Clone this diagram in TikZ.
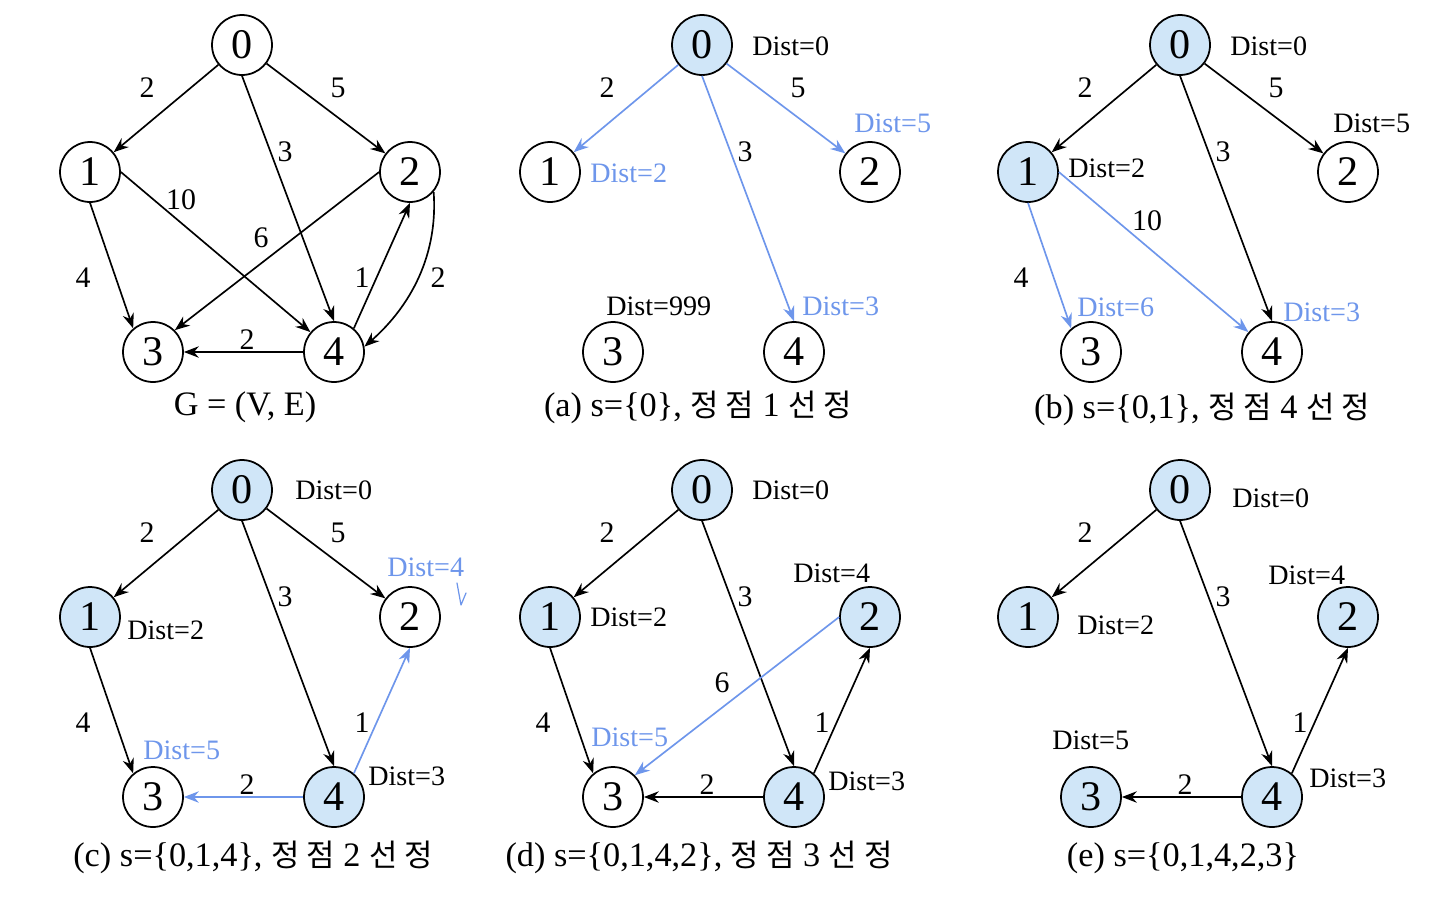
\documentclass[tikz,border=0pt]{standalone}
\usepackage{fontspec}
\setmainfont{Liberation Serif}
\newfontfamily\kor[Scale=0.9]{Noto Sans CJK KR}
\usetikzlibrary{arrows.meta}
\definecolor{hlblue}{RGB}{110,150,235}
\definecolor{donefill}{RGB}{208,230,248}

\begin{document}
\begin{tikzpicture}[x=0.02cm, y=-0.02cm, >={Stealth[length=8.5pt, width=6.5pt]},
    vertex/.style={circle, draw, line width=1pt, minimum size=1.2cm, inner sep=0pt,
      font=\fontsize{24}{24}\selectfont},
    visited/.style={vertex, fill=donefill},
    link/.style={->, line width=0.95pt},
    hl/.style={link, draw=hlblue},
    wt/.style={inner sep=0pt, font=\fontsize{17}{17}\selectfont},
    dist/.style={anchor=west, inner sep=0pt, font=\fontsize{16}{16}\selectfont},
    newdist/.style={dist, text=hlblue},
    subcap/.style={inner sep=0pt, font=\fontsize{19.5}{19.5}\selectfont}]
  \useasboundingbox (0,0) rectangle (1440,910);

  % G = (V, E)
  \begin{scope}
    \node[vertex] (g0) at (242,45) {0};
    \node[vertex] (g1) at (90,172) {1};
    \node[vertex] (g2) at (410,172) {2};
    \node[vertex] (g3) at (153,352) {3};
    \node[vertex] (g4) at (334,352) {4};
    \draw[link] (g0) -- (g1);
    \draw[link] (g0) -- (g2);
    \draw[link] (g0.south) -- (g4.north);
    \draw[link] (g1.south) -- (g3.130);
    \draw[link] (g1.east) -- (g4);
    \draw[link] (g2.west) -- (g3.45);
    \draw[link] (g4.50) -- (g2.south);
    \draw[link] (g2.-40) .. controls +(5,70) and +(40,-35) .. (g4.10);
    \draw[link] (g4) -- (g3);
    \node[wt] (gw01) at (147,88) {2};
    \node[wt] (gw02) at (338,88) {5};
    \node[wt] (gw04) at (285,152) {3};
    \node[wt] (gw14) at (181,200) {10};
    \node[wt] (gw23) at (261,238) {6};
    \node[wt] (gw13) at (83,278) {4};
    \node[wt] (gw42) at (362,278) {1};
    \node[wt] (gw24) at (438,278) {2};
    \node[wt] (gw43) at (247,340) {2};
    \node[subcap] (gcap) at (245,407) {G = (V, E)};
  \end{scope}

  % (a)
  \begin{scope}[shift={(460,0)}]
    \node[visited] (a0) at (242,45) {0};
    \node[vertex] (a1) at (90,172) {1};
    \node[vertex] (a2) at (410,172) {2};
    \node[vertex] (a3) at (153,352) {3};
    \node[vertex] (a4) at (334,352) {4};
    \draw[hl] (a0) -- (a1);
    \draw[hl] (a0) -- (a2);
    \draw[hl] (a0.south) -- (a4.north);
    \node[wt] (aw01) at (147,88) {2};
    \node[wt] (aw02) at (338,88) {5};
    \node[wt] (aw04) at (285,152) {3};
    \node[dist] (ad0) at (292,46) {Dist=0};
    \node[newdist] (ad1) at (130,173) {Dist=2};
    \node[newdist] (ad2) at (394,123) {Dist=5};
    \node[dist] (ad3) at (146,306) {Dist=999};
    \node[newdist] (ad4) at (342,306) {Dist=3};
    \node[subcap] (acap) at (238,407) {(a) s=\{0\}, {\kor 정 점} 1 {\kor 선 정}};
  \end{scope}

  % (b)
  \begin{scope}[shift={(938,0)}]
    \node[visited] (b0) at (242,45) {0};
    \node[visited] (b1) at (90,172) {1};
    \node[vertex] (b2) at (410,172) {2};
    \node[vertex] (b3) at (153,352) {3};
    \node[vertex] (b4) at (334,352) {4};
    \draw[link] (b0) -- (b1);
    \draw[link] (b0) -- (b2);
    \draw[link] (b0.south) -- (b4.north);
    \draw[hl] (b1.south) -- (b3.130);
    \draw[hl] (b1.east) -- (b4);
    \node[wt] (bw01) at (147,88) {2};
    \node[wt] (bw02) at (338,88) {5};
    \node[wt] (bw04) at (285,152) {3};
    \node[wt] (bw14) at (209,221) {10};
    \node[wt] (bw13) at (83,278) {4};
    \node[dist] (bd0) at (292,46) {Dist=0};
    \node[dist] (bd1) at (130,168) {Dist=2};
    \node[dist] (bd2) at (395,123) {Dist=5};
    \node[newdist] (bd3) at (139,307) {Dist=6};
    \node[newdist] (bd4) at (345,312) {Dist=3};
    \node[subcap] (bcap) at (264,409) {(b) s=\{0,1\}, {\kor 정 점} 4 {\kor 선 정}};
  \end{scope}

  % (c)
  \begin{scope}[shift={(0,445)}]
    \node[visited] (c0) at (242,45) {0};
    \node[visited] (c1) at (90,172) {1};
    \node[vertex] (c2) at (410,172) {2};
    \node[vertex] (c3) at (153,352) {3};
    \node[visited] (c4) at (334,352) {4};
    \draw[link] (c0) -- (c1);
    \draw[link] (c0) -- (c2);
    \draw[link] (c0.south) -- (c4.north);
    \draw[link] (c1.south) -- (c3.130);
    \draw[hl] (c4.50) -- (c2.south);
    \draw[hl] (c4) -- (c3);
    \node[wt] (cw01) at (147,88) {2};
    \node[wt] (cw02) at (338,88) {5};
    \node[wt] (cw04) at (285,152) {3};
    \node[wt] (cw13) at (83,278) {4};
    \node[wt] (cw42) at (362,278) {1};
    \node[wt] (cw43) at (247,340) {2};
    \node[dist] (cd0) at (295,45) {Dist=0};
    \node[dist] (cd1) at (127,185) {Dist=2};
    \node[newdist] (cd2) at (387,122) {Dist=4};
    \node[newdist] (cd3) at (143,305) {Dist=5};
    \node[dist] (cd4) at (368,331) {Dist=3};
    \draw[hlblue, line width=0.7pt, line cap=round, line join=round]
      (457,138) -- (461,160) -- (466,148);
    \node[subcap] (ccap) at (253,412) {(c) s=\{0,1,4\}, {\kor 정 점} 2 {\kor 선 정}};
  \end{scope}

  % (d)
  \begin{scope}[shift={(460,445)}]
    \node[visited] (d0) at (242,45) {0};
    \node[visited] (d1) at (90,172) {1};
    \node[visited] (d2) at (410,172) {2};
    \node[vertex] (d3) at (153,352) {3};
    \node[visited] (d4) at (334,352) {4};
    \draw[link] (d0) -- (d1);
    \draw[link] (d0.south) -- (d4.north);
    \draw[link] (d1.south) -- (d3.130);
    \draw[link] (d4.50) -- (d2.south);
    \draw[link] (d4) -- (d3);
    \draw[hl] (d2.west) -- (d3.45);
    \node[wt] (dw01) at (147,88) {2};
    \node[wt] (dw04) at (285,152) {3};
    \node[wt] (dw23) at (262,238) {6};
    \node[wt] (dw13) at (83,278) {4};
    \node[wt] (dw42) at (362,278) {1};
    \node[wt] (dw43) at (247,340) {2};
    \node[dist] (dd0) at (292,45) {Dist=0};
    \node[dist] (dd1) at (130,172) {Dist=2};
    \node[dist] (dd2) at (333,128) {Dist=4};
    \node[newdist] (dd3) at (131,292) {Dist=5};
    \node[dist] (dd4) at (368,336) {Dist=3};
    \node[subcap] (dcap) at (239,412) {(d) s=\{0,1,4,2\}, {\kor 정 점} 3 {\kor 선 정}};
  \end{scope}

  % (e)
  \begin{scope}[shift={(938,445)}]
    \node[visited] (e0) at (242,45) {0};
    \node[visited] (e1) at (90,172) {1};
    \node[visited] (e2) at (410,172) {2};
    \node[visited] (e3) at (153,352) {3};
    \node[visited] (e4) at (334,352) {4};
    \draw[link] (e0) -- (e1);
    \draw[link] (e0.south) -- (e4.north);
    \draw[link] (e4.50) -- (e2.south);
    \draw[link] (e4) -- (e3);
    \node[wt] (ew01) at (147,88) {2};
    \node[wt] (ew04) at (285,152) {3};
    \node[wt] (ew42) at (362,278) {1};
    \node[wt] (ew43) at (247,340) {2};
    \node[dist] (ed0) at (294,53) {Dist=0};
    \node[dist] (ed1) at (139,180) {Dist=2};
    \node[dist] (ed2) at (330,130) {Dist=4};
    \node[dist] (ed3) at (114,295) {Dist=5};
    \node[dist] (ed4) at (371,333) {Dist=3};
    \node[subcap] (ecap) at (245,413) {(e) s=\{0,1,4,2,3\}};
  \end{scope}
\end{tikzpicture}
\end{document}
